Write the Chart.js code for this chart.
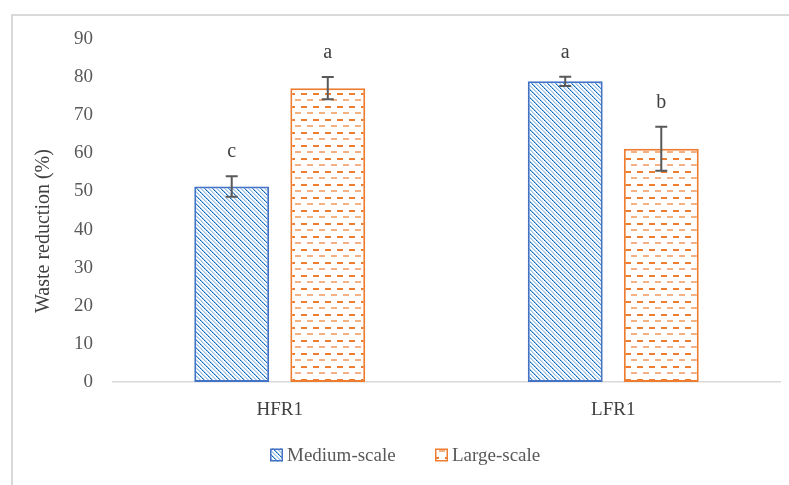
<!DOCTYPE html>
<html>
<head>
<meta charset="utf-8">
<script src="https://cdn.jsdelivr.net/npm/chart.js@4.4.1/dist/chart.umd.min.js"></script>
<style>
  html, body { margin: 0; padding: 0; background: #ffffff; }
  #wrap { width: 789px; height: 485px; position: relative; }
</style>
</head>
<body>
<div id="wrap"><canvas id="chart" width="789" height="485"></canvas></div>
<script>
// Data
const categories = ['HFR1', 'LFR1'];
const seriesNames = ['Medium-scale', 'Large-scale'];
const mediumValues = [51.3, 78.9];
const mediumErrors = [2.7, 1.2];
const mediumLetters = ['c', 'a'];
const largeValues = [77.1, 61.2];
const largeErrors = [2.9, 5.8];
const largeLetters = ['a', 'b'];
const yTicks = [0, 10, 20, 30, 40, 50, 60, 70, 80, 90];
const yTitle = 'Waste reduction (%)';

const FONT = '"Liberation Serif", "DejaVu Serif", serif';

// Fill patterns: blue diagonal hatch and orange dashed rows
function hatchPattern() {
  const c = document.createElement('canvas');
  c.width = 8; c.height = 8;
  const g = c.getContext('2d');
  g.fillStyle = '#ffffff';
  g.fillRect(0, 0, 8, 8);
  for (let i = 0; i < 8; i++) {
    g.fillStyle = '#9dc3e6';
    g.fillRect((i + 4) % 8, i, 1, 1);
    g.fillStyle = '#c5dcf0';
    g.fillRect((i + 5) % 8, i, 1, 1);
    g.fillStyle = (i % 2 === 0) ? '#0066c0' : '#3f86cc';
    g.fillRect(i, i, 1, 1);
    g.fillStyle = '#9dc3e6';
    g.fillRect((i + 1) % 8, i, 1, 1);
  }
  return g.createPattern(c, 'repeat');
}
function dashPattern() {
  const c = document.createElement('canvas');
  c.width = 12; c.height = 13;
  const g = c.getContext('2d');
  g.fillStyle = '#ffffff';
  g.fillRect(0, 0, 12, 13);
  g.fillStyle = '#ed7d31';
  g.fillRect(1, 2, 6, 2);
  g.fillStyle = '#f4b183';
  g.fillRect(7, 8, 6, 2);
  g.fillRect(0, 8, 1, 2);
  return g.createPattern(c, 'repeat');
}
const bluePat = hatchPattern();
const orangePat = dashPattern();

// Light frame around the figure and the rotated axis title
const framePlugin = {
  id: 'frame',
  beforeDraw(chart) {
    const ctx = chart.ctx;
    ctx.save();
    ctx.strokeStyle = '#d9d9d9';
    ctx.lineWidth = 2;
    ctx.strokeRect(12, 15, 800, 500);
    ctx.translate(44, 231);
    ctx.rotate(-Math.PI / 2);
    ctx.fillStyle = '#404040';
    ctx.font = '20px ' + FONT;
    ctx.textAlign = 'center';
    ctx.textBaseline = 'middle';
    ctx.fillText(yTitle, 0, 0);
    ctx.restore();
  }
};

// Error bars with significance letters
const errorPlugin = {
  id: 'errorBars',
  afterDatasetsDraw(chart) {
    const ctx = chart.ctx;
    const y = chart.scales.y;
    chart.data.datasets.forEach((ds, di) => {
      const meta = chart.getDatasetMeta(di);
      meta.data.forEach((bar, i) => {
        const v = ds.data[i];
        const e = ds.errors[i];
        const top = y.getPixelForValue(v + e);
        const bot = y.getPixelForValue(v - e);
        const x = bar.x;
        ctx.save();
        ctx.strokeStyle = '#595959';
        ctx.lineWidth = 2;
        ctx.beginPath();
        ctx.moveTo(x, top); ctx.lineTo(x, bot);
        ctx.moveTo(x - 6, top); ctx.lineTo(x + 6, top);
        ctx.moveTo(x - 6, bot); ctx.lineTo(x + 6, bot);
        ctx.stroke();
        ctx.fillStyle = '#404040';
        ctx.font = '20px ' + FONT;
        ctx.textAlign = 'center';
        ctx.textBaseline = 'alphabetic';
        ctx.fillText(ds.letters[i], x, top - 19);
        ctx.restore();
      });
    });
  }
};

// Legend drawn under the plot
const legendPlugin = {
  id: 'customLegend',
  afterDraw(chart) {
    const ctx = chart.ctx;
    ctx.save();
    ctx.font = '19px ' + FONT;
    const box = 13, gapBox = 4, itemStep = 165;
    let x = 270;
    const cy = 455;
    chart.data.datasets.forEach(ds => {
      ctx.fillStyle = ds.backgroundColor;
      ctx.fillRect(x, cy - box / 2, box, box);
      ctx.strokeStyle = ds.borderColor;
      ctx.lineWidth = 1.5;
      ctx.strokeRect(x + 0.75, cy - box / 2 + 0.75, box - 1.5, box - 1.5);
      ctx.fillStyle = '#595959';
      ctx.textAlign = 'left';
      ctx.textBaseline = 'middle';
      ctx.fillText(ds.label, x + box + gapBox, cy + 1);
      x += itemStep;
    });
    ctx.restore();
  }
};

new Chart(document.getElementById('chart'), {
  type: 'bar',
  data: {
    labels: categories,
    datasets: [
      {
        label: seriesNames[0],
        data: mediumValues,
        errors: mediumErrors,
        letters: mediumLetters,
        backgroundColor: bluePat,
        borderColor: '#4472c4',
        borderWidth: 2,
        borderSkipped: false
      },
      {
        label: seriesNames[1],
        data: largeValues,
        errors: largeErrors,
        letters: largeLetters,
        backgroundColor: orangePat,
        borderColor: '#ed7d31',
        borderWidth: 2,
        borderSkipped: false
      }
    ]
  },
  options: {
    responsive: false,
    animation: false,
    devicePixelRatio: 1,
    categoryPercentage: 0.576,
    barPercentage: 0.78,
    layout: { padding: { left: 0, top: 39, right: 9, bottom: 0 } },
    plugins: {
      legend: { display: false },
      tooltip: { enabled: false }
    },
    scales: {
      x: {
        grid: { display: false, drawTicks: false },
        border: { display: true, color: '#d9d9d9', width: 1.5 },
        ticks: { color: '#404040', font: { family: FONT, size: 19 }, padding: 17 },
        afterFit(scale) { scale.height = 103; }
      },
      y: {
        min: 0,
        max: 90,
        afterBuildTicks(scale) { scale.ticks = yTicks.map(v => ({ value: v })); },
        grid: { display: false, drawTicks: false },
        border: { display: false },
        ticks: { color: '#595959', font: { family: FONT, size: 19 }, padding: 20 },
        afterFit(scale) { scale.width = 113; }
      }
    }
  },
  plugins: [framePlugin, errorPlugin, legendPlugin]
});
</script>
</body>
</html>
